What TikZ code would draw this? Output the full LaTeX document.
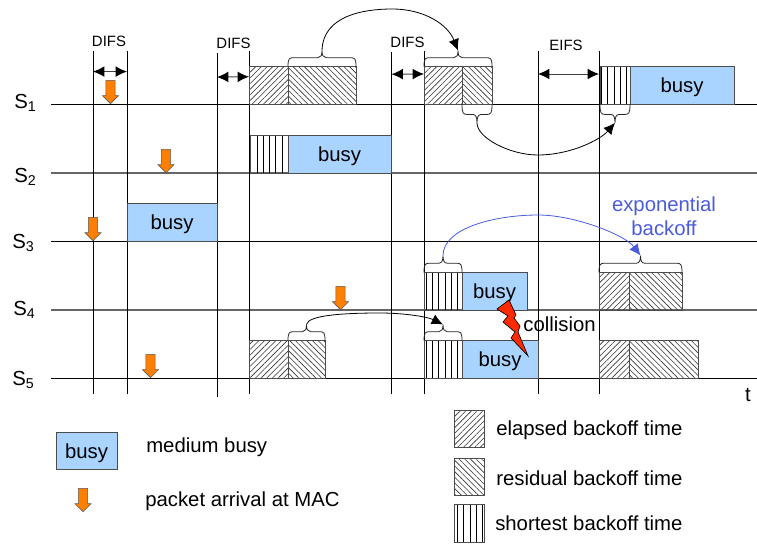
\documentclass[tikz,border=0pt]{standalone}
\usepackage{fontspec}
\setmainfont{Liberation Sans}
\usetikzlibrary{
arrows.meta,
calc,
patterns.meta,
positioning,
shapes.arrows
}
\definecolor{busyblue}{HTML}{A9D4FF}
\definecolor{arrivalorange}{HTML}{FF7F00}
\definecolor{backoffblue}{HTML}{4A5BDC}
\definecolor{boltred}{HTML}{FF2A00}
\tikzset{>={Latex[length=8.5pt,width=8pt]}}
\tikzset{
	timeline/.style={line width=0.7pt,black},
	timelinegray/.style={line width=1.1pt,black!60},
	slotline/.style={line width=0.6pt,black},
	slotspan/.style={{Latex[length=8.5pt,width=8pt,color=black]}-{Latex[length=8.5pt,width=8pt,color=black]},line width=0.7pt,black!75},
	slotlabel/.style={font=\fontsize{11.2pt}{13pt}\selectfont},
	textlabel/.style={inner sep=0pt,anchor=west},
	stationlabel/.style={inner sep=0pt,anchor=base west},
	block/.style={draw=black!70,line width=0.7pt,inner sep=0pt,outer sep=0pt,minimum height=28pt,anchor=south west},
	busybox/.style={block,fill=busyblue,text depth=0pt},
	elapsedbox/.style={block,pattern={Lines[angle=45,distance=3pt,line width=0.45pt]},pattern color=black!80},
	residualbox/.style={block,pattern={Lines[angle=-45,distance=3pt,line width=0.45pt]},pattern color=black!80},
	shortestbox/.style={block,pattern={Lines[angle=90,distance=4.7pt,line width=0.6pt]},pattern color=black},
	arrival/.style={single arrow,draw=black!65,fill=arrivalorange,line width=0.4pt,inner sep=3.2pt,minimum width=12pt,minimum height=17.5pt,single arrow head extend=2.6pt,shape border rotate=270,anchor=tip},
	bracepath/.style={line width=0.6pt,black!85},
	hop/.style={->,line width=0.6pt,black}
}
% from left end, to right end, shoulder height in px, name of the tip
\newcommand{\drawbrace}[4]{
	\draw[bracepath] (#1) .. controls +(0,#3*0.9) and +(-5,0) .. ($(#1)+(6,#3)$)
		-- ($(#1)!0.5!(#2)+(-4,#3)$) .. controls +(3,0) and +(0,-#3*0.5) .. ($(#1)!0.5!(#2)+(0,#3*1.8)$) coordinate (#4)
		.. controls +(0,-#3*0.5) and +(-3,0) .. ($(#1)!0.5!(#2)+(4,#3)$)
		-- ($(#2)+(-6,#3)$) .. controls +(5,0) and +(0,#3*0.9) .. (#2);
}

\begin{document}
\begin{tikzpicture}[x=0.75pt,y=-0.75pt,font=\fontsize{15.25pt}{18pt}\selectfont]
	\useasboundingbox (0,0) rectangle (757,543);

	% stations
	\node[stationlabel] (s1label) at (14,108) {S\textsubscript{1}};
	\node[stationlabel] (s2label) at (14,182) {S\textsubscript{2}};
	\node[stationlabel] (s3label) at (12,248) {S\textsubscript{3}};
	\node[stationlabel] (s4label) at (13,315) {S\textsubscript{4}};
	\node[stationlabel] (s5label) at (12,385) {S\textsubscript{5}};
	\node (tlabel) at (748,395) {t};

	\coordinate (s1start) at (51,104);   \coordinate (s1end) at (757,104);
	\coordinate (s2start) at (51,173);   \coordinate (s2end) at (757,173);
	\coordinate (s3start) at (51,241);   \coordinate (s3end) at (757,241);
	\coordinate (s4start) at (51,310);   \coordinate (s4end) at (757,310);
	\coordinate (s5start) at (51,378);   \coordinate (s5end) at (757,378);
	\draw[timeline] (s1start) -- (s1end);
	\draw[timelinegray] (s2start) -- (s2end);
	\draw[timeline] (s3start) -- (s3end);
	\draw[timelinegray] (s4start) -- (s4end);
	\draw[timeline] (s5start) -- (s5end);

	% slot boundaries
	\coordinate (slot1top) at (93,51);   \coordinate (slot1bot) at (93,394);
	\coordinate (slot2top) at (127,51);  \coordinate (slot2bot) at (127,394);
	\coordinate (slot3top) at (217,53);  \coordinate (slot3bot) at (217,397);
	\coordinate (slot4top) at (249,51);  \coordinate (slot4bot) at (249,394);
	\coordinate (slot5top) at (391.5,52);\coordinate (slot5bot) at (391.5,394);
	\coordinate (slot6top) at (424,51);  \coordinate (slot6bot) at (424,394);
	\coordinate (slot7top) at (538,51);  \coordinate (slot7bot) at (538,394);
	\coordinate (slot8top) at (599,51);  \coordinate (slot8bot) at (599,394);
	\draw[slotline] (slot1top) -- (slot1bot);
	\draw[slotline] (slot2top) -- (slot2bot);
	\draw[slotline] (slot3top) -- (slot3bot);
	\draw[slotline] (slot4top) -- (slot4bot);
	\draw[slotline] (slot5top) -- (slot5bot);
	\draw[slotline] (slot6top) -- (slot6bot);
	\draw[slotline] (slot7top) -- (slot7bot);
	\draw[slotline] (slot8top) -- (slot8bot);

	\node[slotlabel] (difs1) at (109,41) {DIFS};
	\node[slotlabel] (difs2) at (233.5,43) {DIFS};
	\node[slotlabel] (difs3) at (407.5,42) {DIFS};
	\node[slotlabel] (eifs)  at (566,45) {EIFS};

	\draw[slotspan] ($(slot1top)!0.06!(slot1bot)$) -- ($(slot2top)!0.06!(slot2bot)$);
	\draw[slotspan] ($(slot3top)!0.07!(slot3bot)$) -- ($(slot4top)!0.075!(slot4bot)$);
	\draw[slotspan] ($(slot5top)!0.065!(slot5bot)$) -- ($(slot6top)!0.067!(slot6bot)$);
	\draw[slotspan] ($(slot7top)!0.067!(slot7bot)$) -- ($(slot8top)!0.067!(slot8bot)$);

	% station 1
	\node[elapsedbox,minimum width=29.25pt] (s1elapsed) at (249,104) {};
	\node[residualbox,minimum width=51pt,right=0pt of s1elapsed] (s1residual) {};
	\node[elapsedbox,minimum width=28.5pt] (s1elapsedb) at (424,104) {};
	\node[residualbox,minimum width=22.5pt,right=0pt of s1elapsedb] (s1residualb) {};
	\node[shortestbox,minimum width=22.5pt] (s1shortest) at (600,104) {};
	\node[busybox,minimum width=78pt,right=0pt of s1shortest] (s1busy) {busy};

	% station 2
	\node[shortestbox,minimum width=28.5pt] (s2shortest) at (250,173) {};
	\node[busybox,minimum width=77.25pt,right=0pt of s2shortest] (s2busy) {busy};

	% station 3
	\node[busybox,minimum width=67.5pt] (s3busy) at (127,241) {busy};

	% station 4
	\node[shortestbox,minimum width=28.5pt] (s4shortest) at (424,310) {};
	\node[busybox,minimum width=48.75pt,right=0pt of s4shortest] (s4busy) {busy};
	\node[elapsedbox,minimum width=22.5pt] (s4elapsed) at (599,310) {};
	\node[residualbox,minimum width=39.75pt,right=0pt of s4elapsed] (s4residual) {};

	% station 5
	\node[elapsedbox,minimum width=29.25pt] (s5elapsed) at (249,378) {};
	\node[residualbox,minimum width=27.75pt,right=0pt of s5elapsed] (s5residual) {};
	\node[shortestbox,minimum width=28.5pt] (s5shortest) at (424,378) {};
	\node[busybox,minimum width=57pt,right=0pt of s5shortest] (s5busy) {busy};
	\node[elapsedbox,minimum width=22.5pt] (s5elapsedb) at (599,378) {};
	\node[residualbox,minimum width=51.75pt,right=0pt of s5elapsedb] (s5residualb) {};

	% packet arrivals
	\node[arrival] (arrival1) at (110.5,104) {};
	\node[arrival] (arrival2) at (166,173) {};
	\node[arrival] (arrival3) at (93,241) {};
	\node[arrival] (arrival4) at (340.5,310) {};
	\node[arrival] (arrival5) at (150.5,378) {};

	% braces
	\drawbrace{s1residual.north west}{s1residual.north east}{-9}{tip1}
	\drawbrace{s1elapsedb.north west}{s1residualb.north east}{-9}{tip2}
	\drawbrace{s1residualb.south west}{s1residualb.south east}{10.5}{tip3}
	\drawbrace{s1shortest.south west}{s1shortest.south east}{10.5}{tip4}
	\drawbrace{s4shortest.north west}{s4shortest.north east}{-9.5}{tip5}
	\drawbrace{s4elapsed.north west}{s4residual.north east}{-9.5}{tip6}
	\drawbrace{s5residual.north west}{s5residual.north east}{-9}{tip7}
	\drawbrace{s5shortest.north west}{s5shortest.north east}{-9}{tip8}

	% backoff hand-over
	\draw[hop] (tip1) .. controls (323,15) and (365,9) .. (392,9) .. controls (425,9) and (448,25) .. (tip2);
	\draw[hop] (tip3) .. controls (477,138) and (510,155) .. (538,155) .. controls (570,155) and (600,140) .. (tip4);
	\draw[hop] (tip7) .. controls (308,315) and (345,313) .. (380,313) .. controls (405,313) and (428,317) .. (tip8);
	\draw[hop,backoffblue] (tip5) .. controls (443,228) and (495,215) .. (538,215) .. controls (575,215) and (625,235) .. (tip6);

	\node[text=backoffblue,align=center] (expolabel) at (664,216) {exponential\\backoff};

	% collision
	\node (collisionlabel) at (559.5,324) {collision};
	\draw[draw=black,fill=boltred,line width=0.5pt,line join=miter]
		(509,300) -- (497,309) -- (508,316) -- (503,322) -- (515,332) -- (511,338) -- (528,356)
		-- (518,332) -- (520,326) -- (514,318) -- (516,315) -- cycle;

	% key
	\node[busybox,minimum width=45.75pt] (keybusy) at (56,469.5) {busy};
	\node[textlabel] (keybusylabel) at (146,447) {medium busy};
	\node[arrival] (keyarrival) at (83,512) {};
	\node[textlabel] (keyarrivallabel) at (145,501) {packet arrival at MAC};

	\node[elapsedbox,minimum width=22.25pt] (keyelapsed) at (454.5,447.5) {};
	\node[textlabel] (keyelapsedlabel) at (496,430) {elapsed backoff time};
	\node[residualbox,minimum width=22.25pt] (keyresidual) at (454.5,495.5) {};
	\node[textlabel] (keyresiduallabel) at (496,478) {residual backoff time};
	\node[shortestbox,minimum width=22.25pt] (keyshortest) at (454.5,542) {};
	\node[textlabel] (keyshortestlabel) at (495,523) {shortest backoff time};
\end{tikzpicture}
\end{document}
